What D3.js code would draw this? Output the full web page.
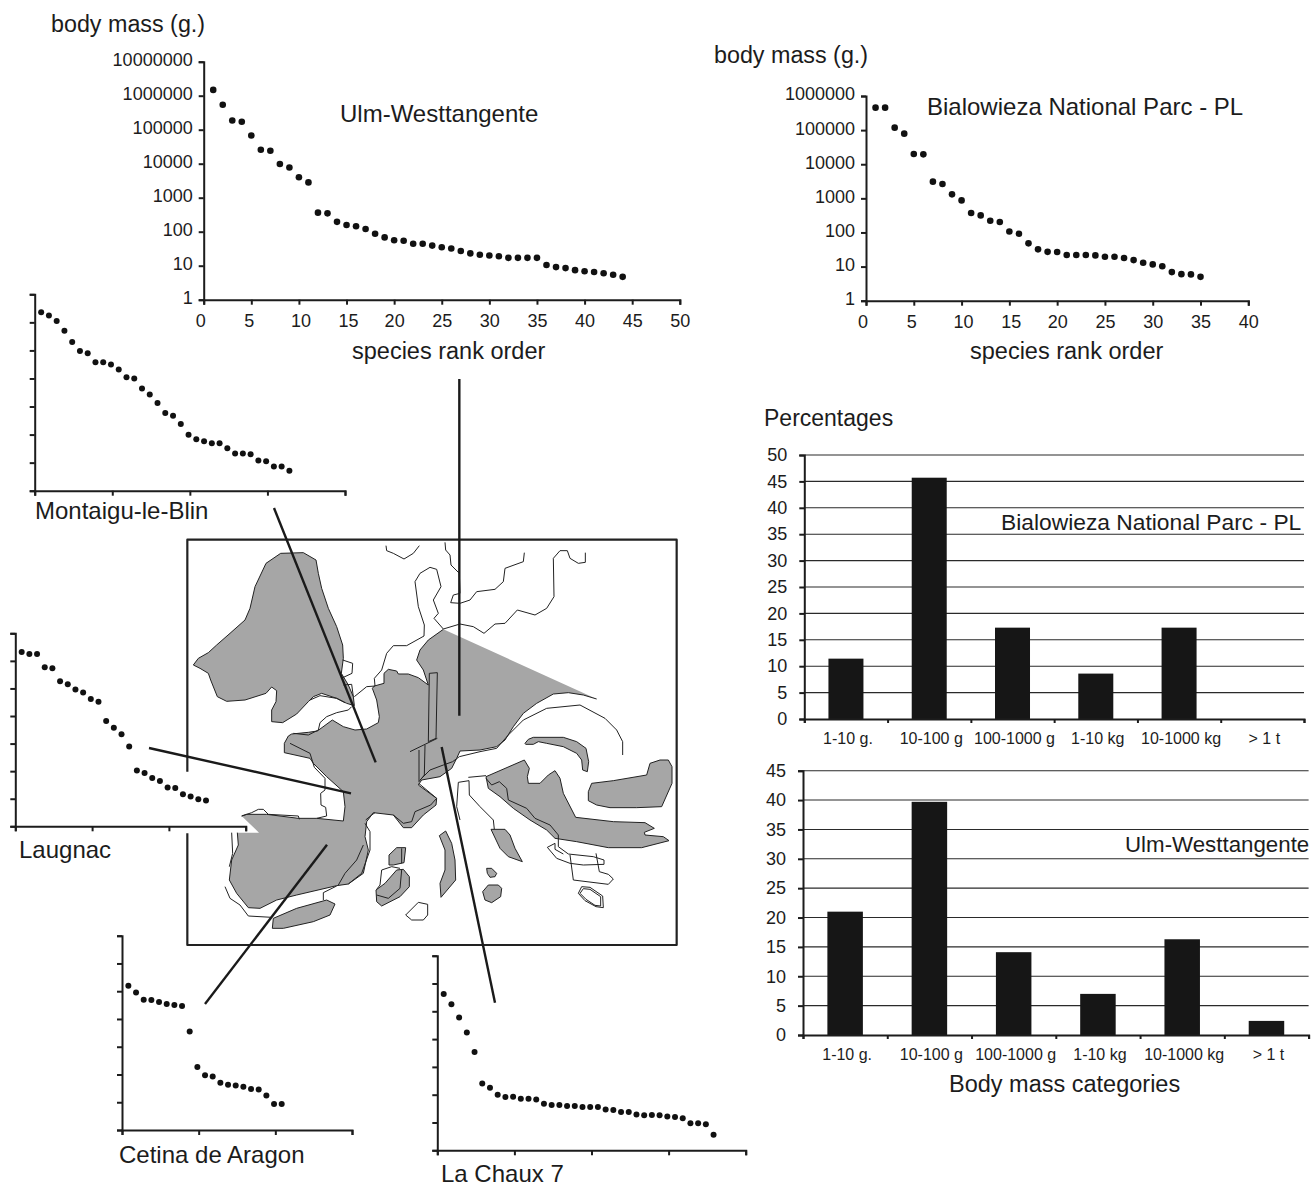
<!DOCTYPE html>
<html>
<head>
<meta charset="utf-8">
<style>
  html, body { margin: 0; padding: 0; background: #fff; }
  svg { display: block; }
  text { font-family: "Liberation Sans", Arial, sans-serif; fill: #1c1c1c; }
  .axis path, .axis line { stroke: #1c1c1c; stroke-width: 2; }
  .axis text { fill: #1c1c1c; }
</style>
</head>
<body>
<svg id="fig" width="1311" height="1186"></svg>
<script src="https://cdn.jsdelivr.net/npm/d3@7"></script>
<script>
// body mass in grams, by species rank
const ulmMass = [1480000, 543000, 186000, 172000, 67600, 25700, 24000, 9770, 7760, 3980, 2820,
    363, 347, 195, 158, 145, 120, 87, 68, 56, 54, 44, 44, 39, 35, 32, 27, 23, 21, 20, 19, 17, 17,
    17, 17, 10.5, 9.1, 8.5, 7.4, 6.9, 6.5, 6, 5.4, 4.7];
const bialowiezaMass = [455000, 455000, 118000, 78700, 20000, 19500, 3090, 2630, 1310, 871, 372,
    316, 221, 202, 107, 92, 48, 32, 27, 26.7, 21.8, 21.8, 21.8, 21.3, 19.5, 19.5, 17.8, 15.5,
    13, 11.6, 10.2, 6.9, 6, 5.9, 5];

// the small panels have no labels on their y axis, so these are read as decades above 1 g
const montaiguLog = [6.36, 6.24, 6.05, 5.70, 5.30, 4.98, 4.90, 4.58, 4.58, 4.50, 4.32, 4.04, 4.00,
    3.64, 3.43, 3.13, 2.77, 2.67, 2.38, 1.99, 1.83, 1.76, 1.69, 1.69, 1.51, 1.33, 1.33, 1.30,
    1.08, 1.05, 0.86, 0.86, 0.71];
const laugnacLog = [6.32, 6.25, 6.25, 5.77, 5.73, 5.26, 5.15, 4.96, 4.85, 4.62, 4.52, 3.82, 3.57,
    3.34, 2.89, 2.02, 1.93, 1.75, 1.64, 1.41, 1.39, 1.16, 1.08, 0.98, 0.94];
const cetinaLog = [5.20, 4.95, 4.69, 4.68, 4.61, 4.54, 4.50, 4.47, 3.55, 2.27, 1.97, 1.93, 1.70,
    1.63, 1.60, 1.56, 1.48, 1.46, 1.24, 0.94, 0.94];
const chauxLog = [5.62, 5.25, 4.78, 4.24, 3.54, 2.40, 2.25, 2.00, 1.92, 1.93, 1.85, 1.85, 1.83,
    1.67, 1.63, 1.63, 1.59, 1.59, 1.56, 1.56, 1.56, 1.47, 1.45, 1.38, 1.38, 1.29, 1.26, 1.27,
    1.26, 1.22, 1.20, 1.15, 0.97, 0.97, 0.94, 0.56];

const massCategories = ["1-10 g.", "10-100 g", "100-1000 g", "1-10 kg", "10-1000 kg", "> 1 t"];
const bialowiezaPct = [11.43, 45.7, 17.3, 8.6, 17.3, 0];
const ulmPct = [21.0, 39.7, 14.1, 7.0, 16.3, 2.4];

const ulmYTicks = [1, 10, 100, 1000, 10000, 100000, 1000000, 10000000];
const bialowiezaYTicks = [1, 10, 100, 1000, 10000, 100000, 1000000];
const ulmXTicks = [0, 5, 10, 15, 20, 25, 30, 35, 40, 45, 50];
const bialowiezaXTicks = [0, 5, 10, 15, 20, 25, 30, 35, 40];
const pctTicksTop = [0, 5, 10, 15, 20, 25, 30, 35, 40, 45, 50];
const pctTicksBottom = [0, 5, 10, 15, 20, 25, 30, 35, 40, 45];
const panelYTicks = [0, 1, 2, 3, 4, 5, 6, 7];
const panelXTicksLong = [0, 10, 20, 30, 40];
const panelXTicksShort = [0, 10, 20, 30];

// map outlines, in map units (1530 x 1290)
const mapFrame = [[22, 725], [22, 29], [1490, 29], [1490, 1245], [22, 1245], [22, 910]];

const coastNorth = [[185, 858], [200, 853], [260, 853], [355, 865], [410, 865], [490, 873], [495, 830],
    [490, 785], [440, 740], [400, 700], [390, 685], [313, 668], [313, 640], [325, 618], [335, 612],
    [385, 607], [412, 603], [457, 570], [490, 590], [525, 600], [560, 597], [595, 578], [598, 560],
    [590, 510], [577, 475], [583, 468], [612, 460], [612, 430], [625, 418], [650, 423], [655, 432],
    [685, 432], [715, 443], [745, 465], [730, 420], [710, 390], [720, 360], [745, 330], [790, 298]];
const coastSouth = [[1250, 507], [1210, 495], [1165, 488], [1120, 492], [1070, 520], [1030, 550],
    [1000, 590], [975, 630], [950, 650], [900, 660], [840, 663], [830, 685], [815, 715], [780, 740],
    [725, 750], [715, 765], [770, 805], [768, 825], [730, 855], [695, 893], [670, 893], [640, 855],
    [580, 848], [560, 875], [555, 920], [565, 960], [550, 1030], [505, 1062], [470, 1067], [350, 1095],
    [290, 1110], [240, 1135], [205, 1133], [170, 1090], [148, 1050], [155, 990], [175, 945], [172, 908]];
const coastNotch = [[237, 908]];

const greyIslands = [
    [[40, 405], [55, 385], [85, 368], [110, 345], [150, 310], [195, 270], [210, 235], [225, 170], [258, 100],
     [302, 70], [370, 68], [408, 90], [415, 130], [425, 175], [445, 235], [470, 290], [488, 345], [490, 385],
     [484, 430], [505, 465], [520, 500], [523, 527], [500, 520], [470, 505], [425, 490], [400, 500], [385, 515],
     [350, 552], [308, 578], [275, 575], [275, 540], [288, 515], [290, 482], [275, 471], [258, 490], [195, 510],
     [140, 514], [112, 500], [92, 450], [85, 430], [60, 415]],
    [[1035, 640], [1045, 628], [1060, 622], [1150, 622], [1190, 635], [1218, 655], [1226, 695], [1222, 725],
     [1208, 720], [1205, 690], [1190, 670], [1150, 650], [1100, 640], [1075, 635], [1060, 643], [1037, 643]],
    [[1225, 785], [1235, 760], [1300, 752], [1400, 735], [1410, 700], [1440, 690], [1465, 690], [1476, 710],
     [1476, 760], [1445, 830], [1370, 833], [1290, 833], [1250, 825], [1225, 812]],
    [[918, 740], [1033, 690], [1048, 715], [1042, 740], [1045, 760], [1080, 760], [1105, 735], [1125, 722],
     [1140, 745], [1150, 790], [1187, 862], [1300, 875], [1395, 878], [1423, 895], [1393, 907], [1395, 915],
     [1450, 920], [1467, 932], [1385, 953], [1285, 953], [1190, 935], [1125, 925], [1100, 900], [1050, 870],
     [1000, 835], [960, 800], [925, 775]],
    [[933, 898], [975, 898], [990, 915], [1005, 955], [1027, 995], [985, 980], [960, 955]],
    [[920, 1015], [935, 1015], [950, 1030], [945, 1040], [930, 1042], [922, 1030]],
    [[908, 1085], [925, 1065], [955, 1065], [965, 1075], [962, 1100], [935, 1118], [915, 1110]],
    [[778, 917], [797, 903], [815, 940], [825, 990], [827, 1050], [783, 1102], [780, 1060], [795, 1020], [795, 960]],
    [[627, 975], [650, 953], [677, 953], [672, 998], [640, 1005], [627, 1005]],
    [[588, 1080], [615, 1060], [650, 1020], [670, 1018], [688, 1040], [688, 1070], [660, 1100], [605, 1128], [590, 1115]],
    [[280, 1165], [350, 1135], [440, 1110], [465, 1122], [450, 1155], [400, 1175], [310, 1195], [277, 1195]],
    [[748, 430], [772, 428], [768, 625], [745, 635]]
];

const whiteIslands = [
    [[677, 1155], [715, 1117], [743, 1123], [743, 1155], [730, 1170], [695, 1170], [677, 1155]],
    [[1195, 1090], [1205, 1070], [1230, 1072], [1268, 1098], [1270, 1133], [1248, 1130], [1215, 1112], [1195, 1090]],
    [[1200, 1090], [1210, 1076], [1230, 1078], [1262, 1100], [1262, 1128], [1245, 1126], [1218, 1108], [1200, 1090]]
];

const coastLines = [
    [[488, 390], [518, 400], [516, 430], [484, 445]],
    [[490, 465], [515, 463], [520, 500]],
    [[390, 510], [420, 497], [470, 505], [495, 518]],
    [[523, 500], [560, 470], [585, 468], [583, 445], [605, 420], [620, 370], [640, 347], [680, 347], [732, 318],
     [733, 285], [715, 230], [705, 155], [720, 130], [750, 112], [770, 118], [783, 170], [760, 210], [775, 250],
     [762, 265], [790, 297], [840, 282], [880, 290], [912, 310], [945, 282], [975, 280], [1012, 240], [1065, 255],
     [1100, 235], [1122, 200], [1120, 85], [1140, 62], [1162, 62], [1170, 85], [1195, 100], [1216, 97], [1216, 68]],
    [[618, 47], [620, 62], [640, 70], [672, 87], [700, 70], [718, 47]],
    [[795, 37], [797, 60], [810, 75], [813, 105], [838, 130], [840, 190], [820, 195], [812, 218], [840, 220],
     [870, 210], [890, 185], [945, 178], [970, 155], [975, 115], [1030, 95], [1033, 68]],
    [[515, 530], [505, 540], [470, 548], [440, 560], [420, 578], [415, 600], [385, 615], [340, 610]],
    [[330, 640], [390, 670], [403, 712], [435, 745], [435, 780], [422, 790], [423, 825], [437, 832], [440, 858], [410, 865]],
    [[155, 908], [158, 970], [148, 1010]],
    [[135, 1070], [150, 1105], [180, 1125], [205, 1158], [275, 1162]],
    [[430, 1110], [430, 1088], [470, 1068]],
    [[185, 858], [215, 848], [235, 838], [250, 838], [265, 853], [355, 858], [358, 868]],
    [[557, 870], [575, 855], [585, 848]],
    [[555, 880], [570, 905], [570, 960], [545, 1030], [505, 1062]],
    [[550, 945], [530, 990], [495, 1030], [475, 1065]],
    [[716, 760], [770, 805], [752, 825], [705, 845], [695, 875], [670, 880], [640, 855]],
    [[720, 750], [750, 720], [790, 705], [818, 695], [838, 680], [900, 665], [950, 655], [985, 615], [1030, 570],
     [1100, 535], [1200, 525], [1275, 565], [1310, 600], [1328, 635], [1328, 675]],
    [[690, 665], [772, 625]],
    [[717, 660], [717, 755], [733, 735], [735, 645]],
    [[918, 745], [935, 765], [958, 755], [980, 775], [985, 810], [1040, 835], [1065, 865], [1110, 885], [1135, 915],
     [1135, 950], [1165, 972], [1240, 980], [1272, 990], [1272, 1003], [1210, 1005], [1170, 1000], [1130, 985],
     [1102, 952], [1125, 940], [1125, 958], [1150, 972]],
    [[1170, 975], [1180, 1050], [1285, 1063], [1300, 1047], [1285, 1033], [1258, 1025], [1248, 970]],
    [[865, 742], [918, 737]],
    [[840, 870], [830, 830], [835, 757], [867, 752], [868, 795], [900, 830], [940, 870], [943, 898]],
    [[665, 955], [665, 1000]],
    [[660, 1015], [635, 1010], [605, 1020], [600, 1065], [590, 1078]],
    [[665, 1020], [660, 1075], [625, 1105], [590, 1095]]
];

// from the small panels to their localities on the map
const leaderLines = [
    [[282, -66], [587, 697]],
    [[838, -453], [838, 557]],
    [[-93, 654], [513, 790]],
    [[75, 1422], [441, 944]],
    [[945, 1418], [785, 651]]
];

const svg = d3.select("#fig");

const mapX = d3.scaleLinear().domain([0, 1530]).range([180, 690]);
const mapY = d3.scaleLinear().domain([0, 1290]).range([530, 960]);
const mapLine = d3.line().x(d => mapX(d[0])).y(d => mapY(d[1]));

const map = svg.append("g").attr("stroke-linejoin", "round");

map.append("path")
    .attr("d", mapLine(coastNorth.concat(coastSouth, coastNotch)) + "Z")
    .attr("fill", "#a6a6a6");
map.selectAll(".island").data(greyIslands).enter().append("path")
    .attr("class", "island")
    .attr("d", d => mapLine(d) + "Z")
    .attr("fill", "#a6a6a6")
    .attr("stroke", "#222")
    .attr("stroke-width", 1);
map.selectAll(".coast").data(coastLines.concat([coastNorth, coastSouth], whiteIslands)).enter().append("path")
    .attr("class", "coast")
    .attr("d", mapLine)
    .attr("fill", "none")
    .attr("stroke", "#222")
    .attr("stroke-width", 1);
map.append("path")
    .attr("d", mapLine(mapFrame))
    .attr("fill", "none")
    .attr("stroke", "#222")
    .attr("stroke-width", 2.2);
map.selectAll(".leader").data(leaderLines).enter().append("path")
    .attr("class", "leader")
    .attr("d", mapLine)
    .attr("fill", "none")
    .attr("stroke", "#1a1a1a")
    .attr("stroke-width", 2.4);

// labelled rank plot with a log mass axis
const drawRankChart = (values, xTicks, yTicks, xRange, yRange) => {
    const xScale = d3.scaleLinear().domain([xTicks[0], xTicks[xTicks.length - 1]]).range(xRange);
    const yScale = d3.scaleLog().domain([yTicks[0], yTicks[yTicks.length - 1]]).range(yRange);

    const g = svg.append("g");
    g.append("g")
        .attr("class", "axis")
        .attr("transform", "translate(0," + yRange[0] + ")")
        .call(d3.axisBottom(xScale).tickValues(xTicks).tickSize(5).tickSizeOuter(5).tickPadding(10).tickFormat(d3.format("d")))
        .selectAll("text")
        .attr("font-size", 18)
        // the first labels sit a little off their ticks in the original
        .attr("dx", d => d === 0 ? -3.5 : d === 5 ? -2.5 : (d === 10 || d === 15) ? 1.5 : 0);
    g.append("g")
        .attr("class", "axis")
        .attr("transform", "translate(" + xRange[0] + ",0)")
        .call(d3.axisLeft(yScale).tickValues(yTicks).tickSize(5).tickSizeOuter(5).tickPadding(6).tickFormat(d3.format("d")))
        .selectAll("text").attr("font-size", 18).attr("dy", "0.22em");

    g.selectAll("circle").data(values).enter().append("circle")
        .attr("cx", (d, i) => xScale(i + 1))
        .attr("cy", d => yScale(d))
        .attr("r", 3.3)
        .attr("fill", "#111");
};

// the unlabelled panels around the map
const drawSmallPanel = (values, xTicks, xRange, yRange) => {
    const xScale = d3.scaleLinear().domain([0, xTicks[xTicks.length - 1]]).range(xRange);
    const yScale = d3.scaleLinear().domain([0, 7]).range(yRange);

    const g = svg.append("g");
    g.append("g")
        .attr("class", "axis")
        .attr("transform", "translate(0," + yRange[0] + ")")
        .call(d3.axisBottom(xScale).tickValues(xTicks).tickSize(5).tickSizeOuter(5).tickFormat(""));
    g.append("g")
        .attr("class", "axis")
        .attr("transform", "translate(" + xRange[0] + ",0)")
        .call(d3.axisLeft(yScale).tickValues(panelYTicks).tickSize(5).tickSizeOuter(5).tickFormat(""));

    g.selectAll("circle").data(values).enter().append("circle")
        .attr("cx", (d, i) => xScale(i + 1) - 1.3)
        .attr("cy", d => yScale(d))
        .attr("r", 3)
        .attr("fill", "#111");
};

// percentage bars with horizontal rules
const drawBars = (values, yTicks, xRange, yRange, barWidth) => {
    const xScale = d3.scaleBand().domain(massCategories).range(xRange);
    const xEdges = d3.scaleLinear().domain([0, massCategories.length]).range(xRange);
    const yScale = d3.scaleLinear().domain([yTicks[0], yTicks[yTicks.length - 1]]).range(yRange);

    const g = svg.append("g");
    g.append("g").selectAll("line").data(yTicks.slice(1)).enter().append("line")
        .attr("x1", xRange[0])
        .attr("x2", xRange[1])
        .attr("y1", d => yScale(d))
        .attr("y2", d => yScale(d))
        .attr("stroke", "#2a2a2a")
        .attr("stroke-width", 1.1);

    g.selectAll("rect").data(values).enter().append("rect")
        .attr("x", (d, i) => xScale(massCategories[i]) + (xScale.bandwidth() - barWidth) / 2)
        .attr("width", barWidth)
        .attr("y", d => yScale(d))
        .attr("height", d => yRange[0] - yScale(d))
        .attr("fill", "#161616");

    g.append("g")
        .attr("class", "axis")
        .attr("transform", "translate(0," + yRange[0] + ")")
        .call(d3.axisBottom(xEdges).tickValues(d3.range(massCategories.length + 1)).tickSize(4).tickSizeOuter(4).tickFormat(""));
    const labels = g.append("g")
        .attr("transform", "translate(2," + yRange[0] + ")")
        .call(d3.axisBottom(xScale).tickSize(0).tickPadding(14));
    labels.select(".domain").remove();
    labels.selectAll("text").attr("font-size", 16).attr("fill", "#1c1c1c");

    g.append("g")
        .attr("class", "axis")
        .attr("transform", "translate(" + xRange[0] + ",0)")
        .call(d3.axisLeft(yScale).tickValues(yTicks).tickSize(5).tickSizeOuter(5).tickPadding(12))
        .selectAll("text").attr("font-size", 18);
};

drawRankChart(ulmMass, ulmXTicks, ulmYTicks, [203.7, 679.8], [299.7, 61.7]);
drawRankChart(bialowiezaMass, bialowiezaXTicks, bialowiezaYTicks, [866, 1248.3], [300.7, 96]);

drawSmallPanel(montaiguLog, panelXTicksLong, [34.7, 345], [490.7, 294.3]);
drawSmallPanel(laugnacLog, panelXTicksShort, [15.3, 245.7], [826.3, 633.3]);
drawSmallPanel(cetinaLog, panelXTicksShort, [122, 352], [1130, 935.7]);
drawSmallPanel(chauxLog, panelXTicksLong, [437.3, 745.7], [1150.3, 955.7]);

drawBars(bialowiezaPct, pctTicksTop, [804.3, 1304], [719, 455], 35);
drawBars(ulmPct, pctTicksBottom, [803, 1308.6], [1035, 770.7], 35.5);

// free-standing labels
const captions = [
    { text: "body mass (g.)", x: 51, y: 32, size: 23.3 },
    { text: "body mass (g.)", x: 714, y: 63, size: 23.3 },
    { text: "Ulm-Westtangente", x: 340, y: 122, size: 24 },
    { text: "Bialowieza National Parc - PL", x: 927, y: 115, size: 24 },
    { text: "species rank order", x: 352, y: 359, size: 23.5 },
    { text: "species rank order", x: 970, y: 359, size: 23.5 },
    { text: "Percentages", x: 764, y: 426, size: 23 },
    { text: "Bialowieza National Parc - PL", x: 1001, y: 530, size: 22.8 },
    { text: "Ulm-Westtangente", x: 1125, y: 852, size: 22.3 },
    { text: "Body mass categories", x: 949, y: 1092, size: 23.5 },
    { text: "Montaigu-le-Blin", x: 35, y: 519, size: 24 },
    { text: "Laugnac", x: 19, y: 858, size: 24 },
    { text: "Cetina de Aragon", x: 119, y: 1163, size: 24 },
    { text: "La Chaux 7", x: 441, y: 1182, size: 24 }
];
svg.append("g").selectAll("text").data(captions).enter().append("text")
    .attr("x", d => d.x)
    .attr("y", d => d.y)
    .attr("font-size", d => d.size)
    .text(d => d.text);
</script>
</body>
</html>
